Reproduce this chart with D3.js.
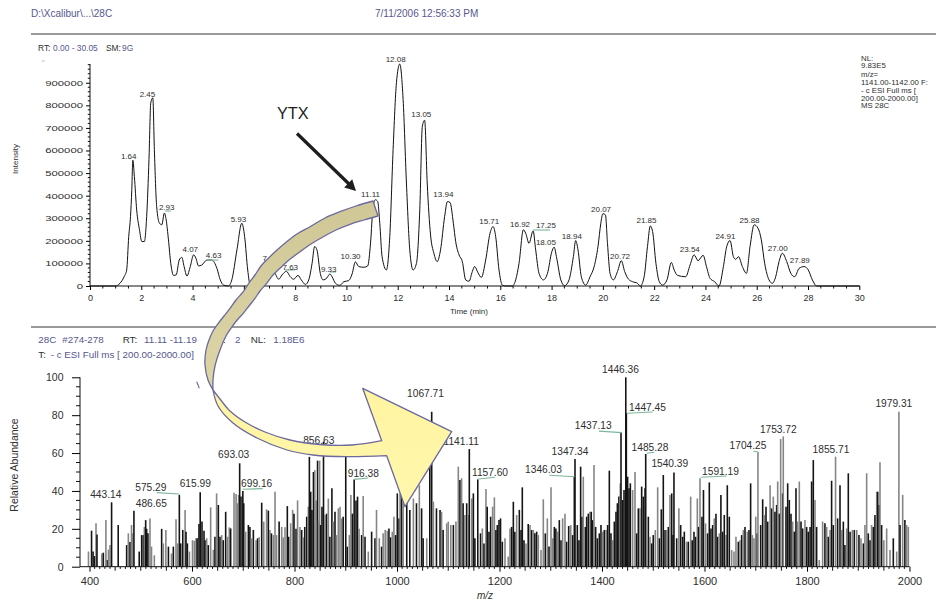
<!DOCTYPE html>
<html>
<head>
<meta charset="utf-8">
<script src="https://cdn.jsdelivr.net/npm/d3@7"></script>
<style>
  body { margin: 0; background: #fff; }
  text { font-family: 'Liberation Sans', Arial, sans-serif; }
</style>
</head>
<body>
<svg id="chart" width="936" height="602"></svg>
<script>
// ---- chromatogram (RT in min, intensity) ----
const rtTrace = [[0,0],[0.98,0],[1.17,12000],[1.33,41000],[1.43,71000],[1.51,219000],[1.58,308000],[1.63,426000],[1.67,557000],[1.73,485000],[1.82,337000],[1.93,249000],[2.02,197000],[2.12,197000],[2.21,308000],[2.30,560000],[2.37,811000],[2.45,833000],[2.51,604000],[2.60,352000],[2.71,278000],[2.80,271000],[2.90,323000],[2.97,293000],[3.06,204000],[3.15,100000],[3.26,47000],[3.36,49000],[3.48,115000],[3.58,127000],[3.67,86000],[3.78,44000],[3.91,86000],[4.04,138000],[4.13,123000],[4.23,89000],[4.36,93000],[4.56,115000],[4.75,115000],[4.95,78000],[5.08,27000],[5.21,4000],[5.40,0],[5.53,27000],[5.73,160000],[5.92,278000],[6.03,219000],[6.15,71000],[6.25,4000],[6.45,10000],[6.75,60000],[7.03,95000],[7.20,60000],[7.36,30000],[7.49,49000],[7.66,65000],[7.81,41000],[7.94,30000],[8.11,47000],[8.24,27000],[8.40,7000],[8.53,27000],[8.66,100000],[8.76,175000],[8.85,160000],[8.98,56000],[9.09,27000],[9.24,36000],[9.35,53000],[9.44,41000],[9.57,12000],[9.74,3000],[9.90,19000],[10.09,24000],[10.22,53000],[10.35,107000],[10.48,86000],[10.68,83000],[10.83,89000],[10.94,190000],[11.04,352000],[11.13,382000],[11.22,374000],[11.30,278000],[11.39,130000],[11.56,71000],[11.69,219000],[11.82,604000],[11.95,900000],[12.08,983000],[12.21,826000],[12.34,456000],[12.47,160000],[12.60,71000],[12.73,100000],[12.86,337000],[12.96,707000],[13.05,734000],[13.15,456000],[13.28,226000],[13.41,145000],[13.54,108000],[13.67,160000],[13.83,308000],[13.94,374000],[14.04,370000],[14.17,278000],[14.26,197000],[14.39,138000],[14.52,108000],[14.65,27000],[14.78,21000],[14.91,64000],[15.00,86000],[15.13,59000],[15.26,38000],[15.43,115000],[15.60,234000],[15.72,263000],[15.82,219000],[15.95,71000],[16.08,4000],[16.21,0],[16.47,0],[16.60,27000],[16.73,100000],[16.90,249000],[16.99,234000],[17.12,189000],[17.28,244000],[17.38,160000],[17.51,56000],[17.68,27000],[17.84,56000],[18.01,152000],[18.10,172000],[18.20,123000],[18.36,27000],[18.51,1500],[18.68,27000],[18.85,130000],[18.94,201000],[19.03,160000],[19.16,41000],[19.33,4000],[19.50,41000],[19.66,86000],[19.81,175000],[19.92,278000],[20.00,320000],[20.10,315000],[20.18,189000],[20.28,56000],[20.41,27000],[20.57,64000],[20.72,112000],[20.85,64000],[21.00,30000],[21.16,19000],[21.35,12000],[21.46,0],[21.61,41000],[21.74,175000],[21.85,266000],[21.94,241000],[22.07,100000],[22.20,19000],[22.33,4000],[22.50,27000],[22.67,104000],[22.78,71000],[22.91,47000],[23.23,41000],[23.40,93000],[23.56,138000],[23.71,112000],[23.91,136000],[24.04,86000],[24.18,34000],[24.36,19000],[24.53,0],[24.70,86000],[24.83,175000],[24.96,201000],[25.09,130000],[25.18,118000],[25.29,130000],[25.44,86000],[25.60,56000],[25.74,175000],[25.90,271000],[26.05,256000],[26.18,204000],[26.31,100000],[26.48,27000],[26.61,12000],[26.74,41000],[26.87,108000],[27.00,145000],[27.17,108000],[27.33,56000],[27.48,41000],[27.65,78000],[27.85,86000],[28.01,71000],[28.17,27000],[28.34,0],[30.03,0]];

// label text, anchor RT, anchor intensity (text baseline)
const rtLabels = [["1.64",1.51,562000],["2.45",2.24,838000],["2.93",2.99,336000],["4.07",3.91,152000],["4.63",4.82,123000],["5.93",5.79,285000],["7.03",7.03,112000],["7.63",7.81,71000],["9.33",9.31,63000],["10.30",10.16,118000],["11.11",10.94,393000],["12.08",11.92,993000],["13.05",12.92,750000],["13.94",13.78,395000],["15.71",15.57,275000],["16.92",16.77,260000],["17.25",17.78,256000],["18.05",17.78,182000],["18.94",18.79,208000],["20.07",19.93,326000],["20.72",20.67,120000],["21.85",21.70,280000],["23.54",23.39,152000],["24.91",24.78,208000],["25.88",25.72,280000],["27.00",26.82,156000],["27.89",27.68,100000]];
// green label markers [t1, t2, intensity]
const rtMarks = [[2.93,3.15,332000],[4.55,5.00,115000],[7.60,8.00,71000],[9.36,9.60,62000],[17.27,17.94,248000]];
const rtTicks = d3.range(0, 31, 2);
const intTicks = d3.range(0, 900001, 100000);

// ---- mass spectrum [m/z, relative abundance, gray?] ----
const specSticks = [[398,8,1],[404,19,0],[407,8,0],[410,5.6,0],[412.7,23,1],[414.6,17,0],[424,7,1],[427,7.4,0],[432,24.6,1],[435,3.5,0],[437,9,1],[440,11.4,1],[443.1,34,0],[456,22,0],[472.5,11.4,0],[475.8,17.6,1],[479,13,0],[482,22,1],[484,17.6,1],[486.7,29.6,0],[497,8,0],[501.8,16.7,0],[505,16.7,0],[507,21,1],[509.6,24.6,0],[511.5,20,0],[514,17.6,0],[518,25.5,1],[521,10.6,1],[526.5,6,1],[540.8,20,0],[544,12.3,1],[549,19.4,1],[554,10.6,0],[560,7,1],[563.6,10.6,0],[568.8,25,1],[572,12.3,1],[575.3,37.9,0],[578,12.3,0],[582,19.4,0],[586.5,30,1],[588.3,18.5,0],[591,12.3,0],[595,8,1],[601,14,1],[604.6,13.7,1],[607.8,15,1],[610,15,0],[613.6,22.5,0],[616,39.3,0],[619.5,23.8,0],[623.4,19,0],[625.4,14,0],[628.6,15,1],[631.8,11.4,0],[636.4,31.3,1],[641.6,9,1],[644.8,15.8,0],[648,38.7,1],[651.4,32.6,0],[654.6,15.8,0],[658,16.7,1],[661,14,0],[665.7,29,0],[669.6,15.8,1],[672.8,20.8,1],[675.4,20.2,0],[682,39,1],[686,38.4,1],[688.5,33.5,1],[691,37.9,1],[693,54.6,0],[695.6,37,0],[699.2,40,0],[701,33.5,0],[704.7,18.5,1],[710,22,0],[713,21,0],[716,15,1],[719.7,19.4,0],[725,14,1],[728,15,0],[731,15.5,1],[736,33.8,0],[740,23.8,1],[745.5,30.3,1],[749,29.6,0],[752,19.4,1],[755,17.6,0],[758.7,16.7,1],[762,39.6,1],[765,16.7,1],[770,23.8,0],[775,21,1],[778,15.5,1],[781.5,20.8,1],[786,32,0],[788.6,15.8,0],[792.5,22.9,1],[796.4,30,1],[799,28,0],[803,20,0],[806,35,1],[810.7,21,1],[814,19.4,0],[817,15.5,1],[820,21,0],[823.8,26.4,0],[827,31.7,1],[829,58,0],[831.6,39.6,0],[834,30,0],[837,50,0],[839.6,51,1],[842,35,1],[845,56,0],[847,23.8,1],[849,56,1],[851,22,0],[853.6,31.7,0],[856.6,66,0],[859.5,27.3,1],[862.6,28,0],[866,36,1],[869,15.8,0],[873,41.4,0],[875.8,23.8,1],[879,29,0],[882,16.7,1],[885.5,30.8,1],[888.8,31.7,1],[892,25.5,1],[895,26.4,0],[900,63,0],[903,10.6,0],[907,16.7,1],[910,37.9,1],[913,28,0],[916.4,46.1,0],[920,35,0],[923,37,0],[926,20,1],[931,16.7,0],[934,37.3,1],[937.6,15.8,0],[944,8,1],[950.5,18.5,0],[957,15,0],[960,30,1],[965.5,15,1],[970,10.6,0],[973,17.6,1],[977,19.4,1],[981,19,1],[984.3,20.2,0],[987.5,15.5,0],[990.8,18.5,1],[994,26.4,1],[997.3,16.7,0],[1000.6,38.7,0],[1004,25.5,0],[1006,38.7,1],[1009,44,0],[1012,33.5,1],[1019,37,0],[1025,30,0],[1032,36,1],[1038,33.5,0],[1043.6,43,1],[1048,30.8,0],[1051,15,0],[1058,15,1],[1064,53.7,0],[1067.7,81.8,0],[1071,34.3,1],[1077,30.8,0],[1084,30,0],[1087,29,1],[1090,19.4,0],[1097,22.9,1],[1100,23.8,1],[1105,22,1],[1110,22,0],[1115,23.8,1],[1119.6,52.8,1],[1122.8,45.8,0],[1126,46.7,1],[1129,33.5,0],[1132.5,27.3,1],[1136,33.5,0],[1139,27.3,1],[1141.1,62.1,0],[1145.7,36,1],[1149,38.7,0],[1152,15,0],[1157.6,46.1,0],[1163,17.6,0],[1166.5,20.2,1],[1169.7,12.3,0],[1173.6,41,1],[1176,31.7,0],[1179.5,18.5,0],[1182.7,26.4,0],[1186.6,31.7,1],[1190,36.6,1],[1193,19.4,0],[1195.7,22,0],[1199,24.6,0],[1202,25.5,0],[1205.5,13.2,0],[1210.7,15,1],[1217,5.3,1],[1220.5,20.2,1],[1223.7,21,0],[1227,34.3,0],[1230,18.5,0],[1233.5,27.3,1],[1238.7,30,0],[1242,19.4,0],[1244.5,41.9,0],[1247.8,14,0],[1251.7,12.3,1],[1256,22.5,0],[1259.5,22,1],[1262.7,19.4,0],[1266,19.4,1],[1269,17.6,0],[1272.5,18.5,0],[1275.7,16.7,1],[1281,8.8,1],[1285.5,35.6,1],[1289.4,17.6,0],[1293.3,25.5,1],[1296.6,10.6,0],[1300.5,41.9,1],[1303.7,15,1],[1307,21,0],[1310,20.2,0],[1313.5,18.5,1],[1316.7,24.6,0],[1320,14,0],[1323.2,25.5,1],[1327.8,28,1],[1331,13.2,0],[1335,21.5,0],[1339,22,1],[1342.7,16.7,0],[1346,47.5,0],[1347.3,56.9,0],[1351.8,22,0],[1355,14,0],[1358.3,52.8,0],[1361,26.4,0],[1363.5,47.5,1],[1367.5,21,0],[1370,26.4,0],[1373.3,28,0],[1376.5,29,1],[1379,29,0],[1381.8,24.6,0],[1384.4,53.7,1],[1387.6,21,0],[1391,15,0],[1394.8,17.6,0],[1398,22,0],[1401.3,18.5,1],[1404.5,19.4,0],[1408,19.4,1],[1411,22,0],[1414.3,50.7,0],[1417.5,17.6,0],[1420.8,14,1],[1424,23.8,0],[1427.3,29,0],[1430,33.5,0],[1433,37,0],[1435.7,44,1],[1437.1,70.8,0],[1440.3,35.2,0],[1443,40.5,0],[1446.4,100,0],[1447.5,81,0],[1450,47.5,0],[1452.7,41.4,0],[1455.3,44,0],[1459.8,40.5,1],[1464.4,50,1],[1467.6,17.6,0],[1470.9,30.8,0],[1474,30.8,1],[1477.4,42.3,0],[1480.6,37,0],[1484,41.4,0],[1485.3,59.5,0],[1490.4,26.4,0],[1493.6,15.8,1],[1497,12.3,0],[1500,16.7,0],[1504,19.4,1],[1508.6,41.9,1],[1512,15,0],[1515.7,30.3,0],[1519.6,48.4,0],[1523,19.4,0],[1526,19.4,1],[1529.4,21,0],[1532.6,37.9,1],[1536,38.7,0],[1538.5,16.7,0],[1540.4,49.8,0],[1545.7,15,0],[1550,30.8,1],[1553.5,22,0],[1557.4,15.8,0],[1560.6,18.5,0],[1565,13.2,1],[1568.4,13.2,0],[1573,37,1],[1576,14,0],[1579.5,18.5,0],[1582.7,15.8,0],[1586,36,1],[1588.6,21,0],[1591.2,46.7,1],[1595,26.4,0],[1598,40.5,0],[1602,22.9,1],[1606,17.6,0],[1609.4,44.5,0],[1612.6,20.2,0],[1616,22,0],[1619,25.5,1],[1622.4,28,0],[1625.6,15.8,0],[1629,17.6,1],[1632,37.9,0],[1635.4,18.5,0],[1638.6,27.3,0],[1642,16.7,1],[1644.5,43,0],[1648.4,26.4,0],[1653,8.8,1],[1657.5,8,1],[1661.4,15.8,1],[1666,13.2,0],[1669.2,14,1],[1672.5,16.7,0],[1675.7,19.4,1],[1679,21,0],[1683.5,18.5,1],[1686.8,19.4,0],[1690,44,0],[1693.3,16.7,1],[1696.6,15,1],[1700,26.4,1],[1703,17.6,0],[1704.3,60.4,1],[1709.6,22,0],[1713.5,35.6,0],[1716.7,27.3,1],[1720,31.7,0],[1723.3,23.8,0],[1728,43,1],[1731,30.8,0],[1734.3,37,1],[1737.5,29,0],[1740.8,32.6,0],[1742.8,45,1],[1746,28,0],[1748.6,67.4,1],[1752.5,38.7,0],[1753.7,68.8,1],[1759,31.7,0],[1762.3,44,0],[1765.5,35.2,0],[1768.8,28,0],[1772,23.8,1],[1775.3,18.5,0],[1778.5,41.4,0],[1781.8,23.8,1],[1785,45,1],[1788.3,23.8,0],[1791.5,20.2,0],[1796,24.6,1],[1799.3,21,0],[1802.5,18.5,0],[1806,21,0],[1809,45,0],[1812.3,56.3,0],[1815.6,35.2,1],[1818.8,21,0],[1824,3.5,1],[1830.5,23.8,1],[1835,22.9,0],[1838.4,21,1],[1841.6,15.8,0],[1845,19.4,1],[1848,45.4,0],[1851.3,22,0],[1855.7,58.1,1],[1859.8,25.5,0],[1864.4,43,0],[1867.6,19.4,1],[1870.9,23.8,0],[1874,11.4,0],[1877.4,20.2,1],[1880.6,49.3,0],[1884,18.5,0],[1888.4,19.4,1],[1892.3,19.4,0],[1897,19.4,1],[1901.4,16.7,0],[1905.3,15,1],[1910,12.3,0],[1913,22,1],[1916.4,49.3,1],[1919.6,17.6,0],[1923,14,0],[1926,22,1],[1929.4,21,0],[1932.6,27.3,0],[1936,39.6,1],[1938,39.6,0],[1941,32.6,0],[1942.4,55.1,1],[1945.6,22,0],[1950,14,1],[1955.4,20.2,1],[1962,8.8,1],[1968.4,15,0],[1975,8,1],[1979.3,81.8,1],[1981.5,22,0],[1986.7,37.9,1],[1991,24.6,0],[1994.4,22,1],[1997.7,21,1]];

// label text, anchor m/z (text centre), anchor abundance (baseline)
const specLabels = [["443.14",431.8,36.1],["486.65",520.6,31.7],["575.29",519.7,40.1],["615.99",606.4,41.9],["693.03",681.3,57.2],["699.16",726.2,42.2],["856.63",847.4,64.8],["916.38",934.3,47.5],["1067.71",1055.6,89.8],["1141.11",1125.3,64.3],["1157.60",1181.5,47.9],["1346.03",1285.9,49.3],["1347.34",1337.6,59.0],["1437.13",1382.8,72.5],["1446.36",1436.1,102.4],["1447.45",1488.8,82.4],["1485.28",1493.7,61.1],["1540.39",1532.3,52.5],["1591.19",1631.2,48.4],["1704.25",1684.9,62.0],["1753.72",1744.0,70.7],["1855.71",1846.8,60.2],["1979.31",1969.4,84.2]];
// green label markers [mz1, ab1, mz2, ab2]
const specMarks = [[531.1,39.1,575.2,38.4],[698.9,40.9,738,41.2],[916.7,46.1,944,46.8],[1158.6,46.3,1191.2,47.2],[1297.2,48.3,1346.7,47.5],[1394.1,71.6,1438.4,70.8],[1448.2,81,1498.9,81.7],[1487.2,59.9,1502,60.4],[1592.6,47.2,1643.3,47.9],[1695.2,61.1,1706.3,60.4]];
const mzTicks = d3.range(400, 2001, 200);
const abTicks = d3.range(0, 101, 20);

const DARK = "#2e2e2e", PURPLE = "#57578e", GREEN = "#7cb79b";
const svg = d3.select("#chart");

// ---- page header ----
svg.append("text").attr("x", 31).attr("y", 16.5).attr("font-size", 10).attr("fill", PURPLE).text("D:\\Xcalibur\\...\\28C");
svg.append("text").attr("x", 375).attr("y", 16.5).attr("font-size", 10).attr("fill", PURPLE).text("7/11/2006 12:56:33 PM");
[34, 327].forEach(y => svg.append("line").attr("x1", 31).attr("x2", 936).attr("y1", y).attr("y2", y)
  .attr("stroke", "#777").attr("stroke-width", 1.5));

function runs(parent, x, y, size, parts) {
  const t = parent.append("text").attr("x", x).attr("y", y).attr("font-size", size);
  parts.forEach(p => t.append("tspan").attr("x", p[2]).attr("fill", p[1] ? PURPLE : DARK).text(p[0]));
  return t;
}
runs(svg, 38, 50.5, 8.4, [["RT:", 0, 38], ["0.00 - 30.05", 1, 53], ["SM:", 0, 106], ["9G", 1, 122]]);
svg.append("line").attr("x1", 42).attr("x2", 44.5).attr("y1", 61).attr("y2", 61).attr("stroke", "#9bb").attr("stroke-width", 1);

const info = ["NL:", "9.83E5", "m/z=", "1141.00-1142.00 F:", "- c ESI Full ms [", "200.00-2000.00]", "MS 28C"];
svg.append("g").selectAll("text").data(info).join("text")
  .attr("x", 861).attr("y", (d, i) => 60.5 + i * 7.7 + (i > 1 ? 1.5 : 0))
  .attr("font-size", 7.8).attr("fill", DARK).text(d => d);

// ---- chromatogram ----
const xT = d3.scaleLinear().domain([0, 30]).range([90, 859.3]);
const yT = d3.scaleLinear().domain([0, 983000]).range([286, 64]);
const topG = svg.append("g");

topG.append("line").attr("x1", xT(0)).attr("x2", xT(0)).attr("y1", yT(0)).attr("y2", yT.range()[1]).attr("stroke", "#111");
topG.append("line").attr("x1", xT(0)).attr("x2", xT(30)).attr("y1", yT(0)).attr("y2", yT(0)).attr("stroke", "#111");

const yAxT = topG.append("g").attr("transform", `translate(${xT(0)},0)`)
  .call(d3.axisLeft(yT).tickValues(intTicks).tickSize(4).tickSizeOuter(0).tickPadding(3).tickFormat(d3.format("d")));
yAxT.select(".domain").remove();
yAxT.selectAll("text").attr("font-size", 7.5).attr("fill", DARK)
  .attr("textLength", d => String(d).length * 6.3).attr("lengthAdjust", "spacingAndGlyphs");
topG.append("g").selectAll("line").data(d3.range(0, 983000, 20000).filter(v => v % 100000))
  .join("line").attr("x1", xT(0) - 2.2).attr("x2", xT(0)).attr("y1", d => yT(d)).attr("y2", d => yT(d)).attr("stroke", "#111");

const xAxT = topG.append("g").attr("transform", `translate(0,${yT(0)})`)
  .call(d3.axisBottom(xT).tickValues(rtTicks).tickSize(4).tickSizeOuter(0).tickPadding(5).tickFormat(d3.format("d")));
xAxT.select(".domain").remove();
xAxT.selectAll("text").attr("font-size", 9).attr("fill", DARK);
topG.append("g").selectAll("line").data(d3.range(0.5, 30, 0.5).filter(v => v % 2))
  .join("line").attr("x1", d => xT(d)).attr("x2", d => xT(d)).attr("y1", yT(0)).attr("y2", yT(0) + 2.5).attr("stroke", "#111");

topG.append("text").attr("x", 469).attr("y", 314).attr("text-anchor", "middle").attr("font-size", 8).attr("fill", DARK).text("Time (min)");
topG.append("text").attr("transform", "translate(18,159) rotate(-90)").attr("text-anchor", "middle")
  .attr("font-size", 8).attr("fill", DARK).text("Intensity");

topG.append("path").datum(rtTrace)
  .attr("fill", "none").attr("stroke", "#111").attr("stroke-width", 1)
  .attr("d", d3.line().x(d => xT(d[0])).y(d => yT(d[1])).curve(d3.curveMonotoneX));

topG.append("g").selectAll("line").data(rtMarks).join("line")
  .attr("x1", d => xT(d[0])).attr("x2", d => xT(d[1])).attr("y1", d => yT(d[2])).attr("y2", d => yT(d[2]))
  .attr("stroke", GREEN).attr("stroke-width", 1.1);
topG.append("g").selectAll("text").data(rtLabels).join("text")
  .attr("x", d => xT(d[1])).attr("y", d => yT(d[2])).attr("text-anchor", "middle")
  .attr("font-size", 8).attr("fill", DARK).text(d => d[0]);

// ---- mass spectrum ----
const xB = d3.scaleLinear().domain([400, 2000]).range([89.5, 909.5]);
const yB = d3.scaleLinear().domain([0, 100]).range([566.7, 377.3]);
const botG = svg.append("g");

runs(botG, 38, 343.3, 9.8, [["28C", 1, 38.3], ["#274-278", 1, 62.3], ["RT:", 0, 122.7], ["11.11 -11.19", 1, 144], ["AV:", 0, 211], ["2", 1, 235], ["NL:", 0, 250.7], ["1.18E6", 1, 273.3]]);
runs(botG, 38, 357.7, 9.8, [["T:", 0, 38.3], ["- c ESI Full ms [ 200.00-2000.00]", 1, 50.7]]);

botG.append("g").selectAll("line").data(specSticks).join("line")
  .attr("x1", d => xB(d[0])).attr("x2", d => xB(d[0]))
  .attr("y1", yB(0)).attr("y2", d => yB(d[1]))
  .attr("stroke", d => d[2] ? "#858585" : "#141414").attr("stroke-width", 1.6);

botG.append("line").attr("x1", 80).attr("x2", 80).attr("y1", yB(0)).attr("y2", yB(100)).attr("stroke", "#111");
botG.append("line").attr("x1", 80).attr("x2", xB(2000)).attr("y1", yB(0)).attr("y2", yB(0)).attr("stroke", "#111");

const yAxB = botG.append("g").attr("transform", "translate(80,0)")
  .call(d3.axisLeft(yB).tickValues(abTicks).tickSize(8).tickSizeOuter(0).tickPadding(8.5));
yAxB.select(".domain").remove();
yAxB.selectAll("text").attr("font-size", 10.5).attr("fill", DARK);
botG.append("g").selectAll("line").data(d3.range(5, 100, 5).filter(v => v % 20))
  .join("line").attr("x1", 76).attr("x2", 80).attr("y1", d => yB(d)).attr("y2", d => yB(d)).attr("stroke", "#111");

const xAxB = botG.append("g").attr("transform", `translate(0,${yB(0)})`)
  .call(d3.axisBottom(xB).tickValues(mzTicks).tickSize(5).tickSizeOuter(0).tickPadding(5.5).tickFormat(d3.format("d")));
xAxB.select(".domain").remove();
xAxB.selectAll("text").attr("font-size", 11).attr("fill", DARK);
botG.append("g").selectAll("line").data(d3.range(400, 2001, 10).filter(v => v % 200))
  .join("line").attr("x1", d => xB(d)).attr("x2", d => xB(d))
  .attr("y1", yB(0)).attr("y2", d => yB(0) + (d % 50 ? 2.2 : 4)).attr("stroke", "#111");

botG.append("text").attr("x", 485).attr("y", 599).attr("text-anchor", "middle").attr("font-size", 10)
  .attr("font-style", "italic").attr("fill", DARK).text("m/z");
botG.append("text").attr("transform", "translate(18,465) rotate(-90)").attr("text-anchor", "middle")
  .attr("font-size", 10.5).attr("fill", DARK).text("Relative Abundance");

botG.append("g").selectAll("line").data(specMarks).join("line")
  .attr("x1", d => xB(d[0])).attr("y1", d => yB(d[1])).attr("x2", d => xB(d[2])).attr("y2", d => yB(d[3]))
  .attr("stroke", GREEN).attr("stroke-width", 1.1);
botG.append("g").selectAll("text").data(specLabels).join("text")
  .attr("x", d => xB(d[1])).attr("y", d => yB(d[2])).attr("text-anchor", "middle")
  .attr("font-size", 10.2).attr("fill", DARK).text(d => d[0]);

// ---- annotations (page pixels) ----
const ann = svg.append("g");
ann.append("text").attr("x", 277).attr("y", 119).attr("font-size", 16.3).attr("fill", "#1e1e1e").text("YTX");
ann.append("line").attr("x1", 297).attr("y1", 133.5).attr("x2", 349).attr("y2", 184)
  .attr("stroke", "#1e1e1e").attr("stroke-width", 3.2);
ann.append("polygon").attr("points", "356,191 344.2,187.4 352.2,179.2").attr("fill", "#1e1e1e");

const defs = svg.append("defs");
const gTan = defs.append("linearGradient").attr("id", "tan").attr("x1", 0).attr("y1", 0).attr("x2", 0).attr("y2", 1);
gTan.append("stop").attr("offset", "0%").attr("stop-color", "#cfc796");
gTan.append("stop").attr("offset", "100%").attr("stop-color", "#ddd5a6");
const gYel = defs.append("linearGradient").attr("id", "yel").attr("x1", 0).attr("y1", 0).attr("x2", 0).attr("y2", 1);
gYel.append("stop").attr("offset", "0%").attr("stop-color", "#fff4a0");
gYel.append("stop").attr("offset", "100%").attr("stop-color", "#fff7ad");

const smooth = d3.line().curve(d3.curveCatmullRom.alpha(0.5));
const tanOuter = [[373,201],[356,206],[340,211.7],[325,218],[310,226.7],[297,234],[286.7,241.7],[277,250],[268.3,258.3],[261,266],[255,275],[249,283],[243.3,291.7],[236,300],[230,308.3],[224,316],[218.3,323.3],[213,331],[209,340],[206,350],[205,365],[208,380],[213,390]];
const tanInner = [[378,216],[364,220],[350,224.3],[336,230],[323.3,236.7],[311,244],[300,251.7],[289,260],[280,268.3],[273,275],[266.7,283.3],[260,291],[255,298.3],[249,306],[243.3,313.3],[238,319],[233.3,325],[226,336],[220,350],[215,366],[213,380],[213,390]];
const yelUpper = [[213,390],[220,399],[230,411],[245,422],[265,432],[290,440],[320,444.5],[352,445],[381.7,440.7]];
const yelLower = [[213,390],[218,406],[233,423],[257,438],[287,450],[313,455],[347,456.7],[386.7,455.7]];
const head = [[362.7,388.3],[451.7,431.7],[405,506.7]];

const OUTLINE = "#6b699e";
ann.append("path")
  .attr("d", smooth(tanOuter) + smooth(tanInner.slice().reverse()).replace(/^M/, "L") + "Z")
  .attr("fill", "url(#tan)").attr("stroke", OUTLINE).attr("stroke-width", 1.3).attr("stroke-linejoin", "round");
ann.append("path")
  .attr("d", smooth(yelUpper) + head.map(p => "L" + p).join("") + smooth(yelLower.slice().reverse()).replace(/^M/, "L") + "Z")
  .attr("fill", "url(#yel)").attr("stroke", OUTLINE).attr("stroke-width", 1.3).attr("stroke-linejoin", "round");
ann.append("line").attr("x1", 196.7).attr("y1", 381.7).attr("x2", 199.3).attr("y2", 388.3)
  .attr("stroke", OUTLINE).attr("stroke-width", 1.1);
</script>
</body>
</html>
